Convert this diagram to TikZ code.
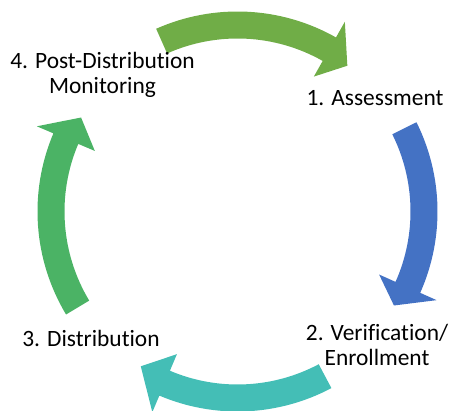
\documentclass[tikz,border=0pt]{standalone}
\usepackage{fontspec}
\setmainfont{Carlito}[Ligatures=NoCommon]
\usetikzlibrary{calc}
\definecolor{arTop}{HTML}{70AD47}
\definecolor{arRight}{HTML}{4472C4}
\definecolor{arBottom}{HTML}{44BEB6}
\definecolor{arLeft}{HTML}{4BB365}
\begin{document}
\begin{tikzpicture}[x=1pt,y=1pt,
  lbl/.style={align=center,font=\fontsize{23.4}{25.5}\selectfont,inner sep=0pt,text=black}]
\useasboundingbox (0,0) rectangle (449,411);
\coordinate (C) at (237.5,199.5);
\def\arR{186.5}\def\arW{13.5}\def\arHd{31.5}
\newcommand\cycarrow[4]{%
  \fill[#1] ($(C)+(#2:\arR+\arW)$) arc[start angle=#2,end angle=#3,radius=\arR+\arW]
    -- ($(C)+(#3:\arR+\arHd)$) -- ($(C)+(#4:\arR-4)$) -- ($(C)+(#3:\arR-\arHd)$)
    -- ($(C)+(#3:\arR-\arW)$) arc[start angle=#3,end angle=#2,radius=\arR-\arW] -- cycle;}
\cycarrow{arTop}{114}{60.5}{53}
\cycarrow{arRight}{26.5}{-24}{-31}
\cycarrow{arBottom}{-62}{-113}{-122}
\cycarrow{arLeft}{211}{157}{149}
\node[lbl] (pdm) at (102.5,336) {4. Post-Distribution\\Monitoring};
\node[lbl] (ass) at (375,313) {1. Assessment};
\node[lbl] (ver) at (377,66) {2. Verification/\\Enrollment};
\node[lbl] (dis) at (91,73) {3. Distribution};
\end{tikzpicture}
\end{document}
